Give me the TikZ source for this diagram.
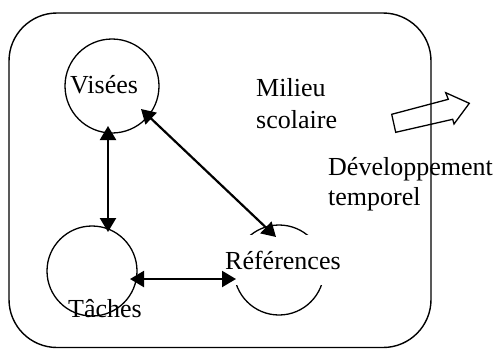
\documentclass[tikz,border=0pt]{standalone}
\usepackage{fontspec}
\setmainfont{Liberation Serif}
\usetikzlibrary{arrows.meta}
\begin{document}
\begin{tikzpicture}[x=1pt,y=-1pt,
  ring/.style={draw,circle,line width=1.3pt,inner sep=0pt},
  lbl/.style={inner sep=0pt,anchor=base west,font=\fontsize{26}{31}\selectfont},
  dbl/.style={line width=2.2pt,{Triangle[length=14pt,width=16pt]}-{Triangle[length=14pt,width=16pt]}}]
\useasboundingbox (0,0) rectangle (497,349);
% environment frame
\draw[line width=1.4pt,rounded corners=48pt] (9,13) rectangle (431,347.5);
% circles
\node[ring,minimum size=94pt] (visees) at (112,86) {};
\node[ring,minimum size=90pt] (taches) at (92,271) {};
\node[ring,minimum size=90pt] (refs) at (279,270) {};
% texts
\node[lbl] (tvisees) at (70,93.3) {Visées};
\node[lbl] (ttaches) at (68,317) {Tâches};
\node[lbl,fill=white,inner xsep=3pt,inner ysep=10pt,text height=24pt,text depth=6pt] (trefs) at (222,269) {Références};
\node[lbl] (milieu1) at (256,96.7) {Milieu};
\node[lbl] (milieu2) at (256,128) {scolaire};
\node[lbl] (dev1) at (328,175) {Développement};
\node[lbl] (dev2) at (328,205) {temporel};
% connectors
\draw[dbl] ([shift={(-4,40)}]visees.center) -- ([shift={(16,-39)}]taches.center);
\draw[dbl] ([shift={(29,23)}]visees.center) -- ([shift={(-3,-33)}]refs.center);
\draw[dbl] ([shift={(38,8)}]taches.center) -- ([shift={(-43,9)}]refs.center);
% block arrow (temporal development)
\draw[line width=1.3pt,line join=miter]
  (391.7,114.3) -- (448.3,99.3) -- (445.7,92.7) -- (469.3,103.3)
  -- (454,124) -- (452.7,119.3) -- (395.7,132.3) -- cycle;
\end{tikzpicture}
\end{document}
